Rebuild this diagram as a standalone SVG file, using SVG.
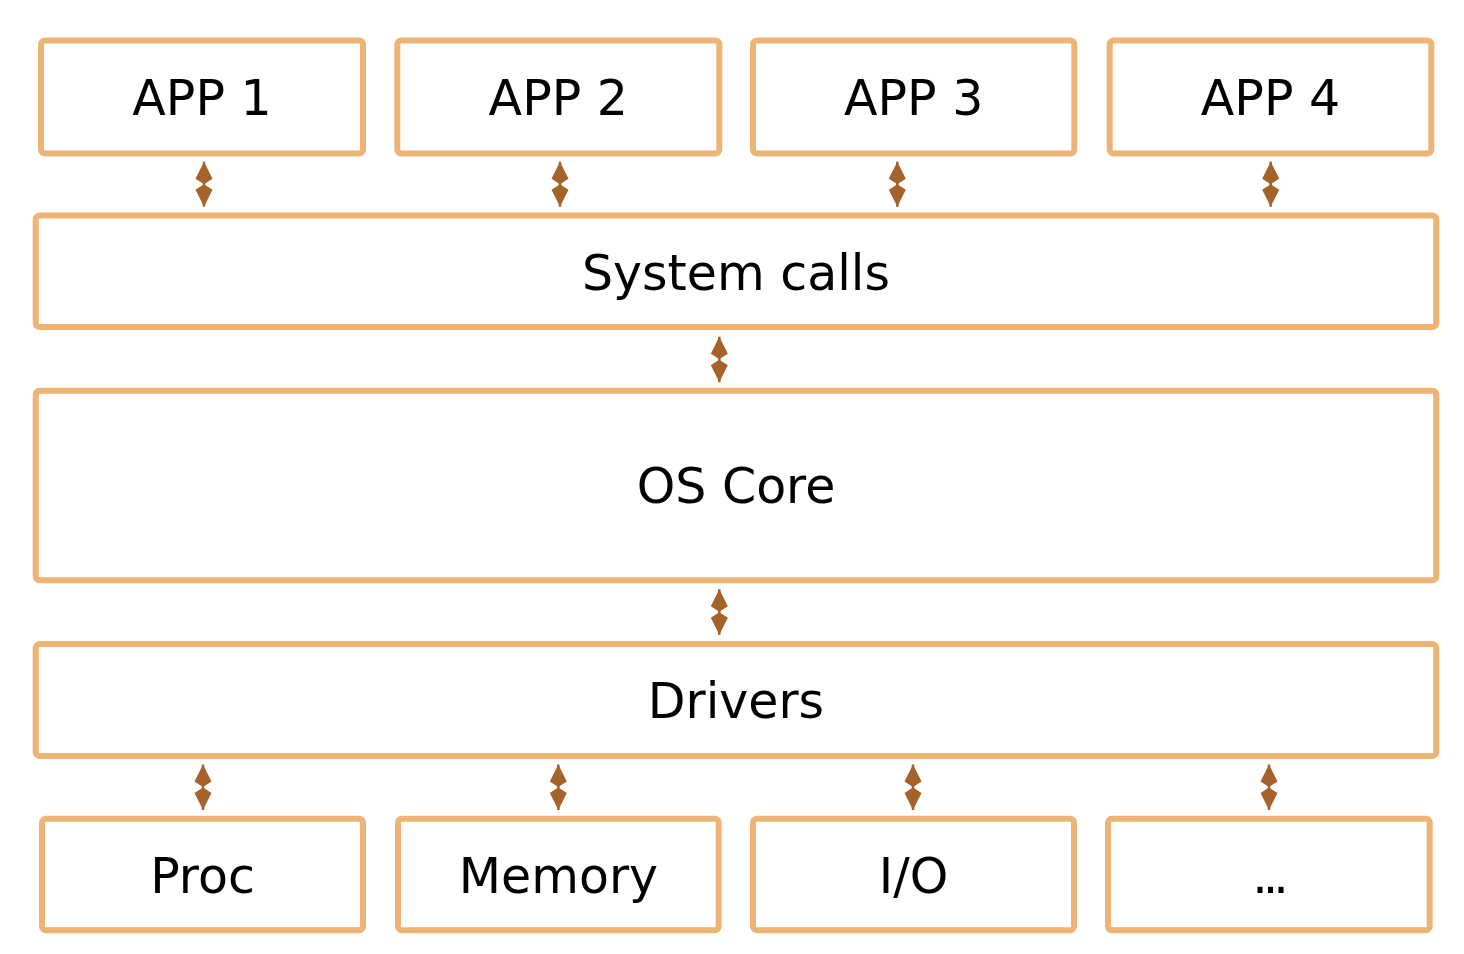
<svg xmlns="http://www.w3.org/2000/svg" width="1464" height="954" viewBox="0 0 1464 954">
  <style>
    .box { fill: #FFFFFF; stroke: #EEB474; stroke-width: 6; }
    .lbl { font-family: "DejaVu Sans", "Liberation Sans", sans-serif; font-size: 49px; fill: #000000; text-anchor: middle; }
    .conn { stroke: #A5622A; stroke-width: 2.5; fill: none; marker-start: url(#head); marker-end: url(#head); }
  </style>
  <defs>
    <marker id="head" viewBox="-24 -10 26 20" markerWidth="26" markerHeight="20" refX="0" refY="0" orient="auto-start-reverse" markerUnits="userSpaceOnUse">
      <path d="M0,0 L-17,-8.5 L-22.5,0 L-17,8.5 Z" fill="#A5622A"/>
    </marker>
  </defs>
  <rect width="1464" height="954" fill="#FFFFFF"/>

  <g id="app1"><rect class="box" x="41" y="40.5" width="322" height="113" rx="4"/><text class="lbl" x="202" y="115">APP 1</text></g>
  <g id="app2"><rect class="box" x="397.3" y="40.5" width="322" height="113" rx="4"/><text class="lbl" x="558.3" y="115">APP 2</text></g>
  <g id="app3"><rect class="box" x="753" y="40.5" width="321.3" height="113" rx="4"/><text class="lbl" x="913.7" y="115">APP 3</text></g>
  <g id="app4"><rect class="box" x="1109.7" y="40.5" width="321.6" height="113" rx="4"/><text class="lbl" x="1270.5" y="115">APP 4</text></g>

  <g id="syscalls"><rect class="box" x="35.7" y="215.5" width="1400.6" height="111.5" rx="4"/><text class="lbl" x="736" y="289.5">System calls</text></g>
  <g id="oscore"><rect class="box" x="35.7" y="390.7" width="1400.6" height="189.6" rx="4"/><text class="lbl" x="736" y="503.3">OS Core</text></g>
  <g id="drivers"><rect class="box" x="35.7" y="644" width="1400.6" height="112" rx="4"/><text class="lbl" x="736" y="718">Drivers</text></g>

  <g id="proc"><rect class="box" x="42" y="818.7" width="321" height="111.6" rx="4"/><text class="lbl" x="202.5" y="892.8">Proc</text></g>
  <g id="memory"><rect class="box" x="398" y="818.7" width="320.7" height="111.6" rx="4"/><text class="lbl" x="558.4" y="892.8">Memory</text></g>
  <g id="io"><rect class="box" x="753" y="818.7" width="321" height="111.6" rx="4"/><text class="lbl" x="913.5" y="892.8">I/O</text></g>
  <g id="more"><rect class="box" x="1108" y="818.7" width="321.7" height="111.6" rx="4"/><text class="lbl" x="1268" y="892.8" style="letter-spacing:-5px">...</text></g>

  <g id="connectors">
    <line class="conn" x1="204" y1="161.7" x2="204" y2="206.7"/>
    <line class="conn" x1="560" y1="161.7" x2="560" y2="206.7"/>
    <line class="conn" x1="897.3" y1="161.7" x2="897.3" y2="206.7"/>
    <line class="conn" x1="1270.7" y1="161.7" x2="1270.7" y2="206.7"/>
    <line class="conn" x1="719.3" y1="336.7" x2="719.3" y2="382.2"/>
    <line class="conn" x1="719.3" y1="589.3" x2="719.3" y2="634.8"/>
    <line class="conn" x1="203" y1="764.5" x2="203" y2="810"/>
    <line class="conn" x1="558.3" y1="764.5" x2="558.3" y2="810"/>
    <line class="conn" x1="913" y1="764.5" x2="913" y2="810"/>
    <line class="conn" x1="1269" y1="764.5" x2="1269" y2="810"/>
  </g>
</svg>
